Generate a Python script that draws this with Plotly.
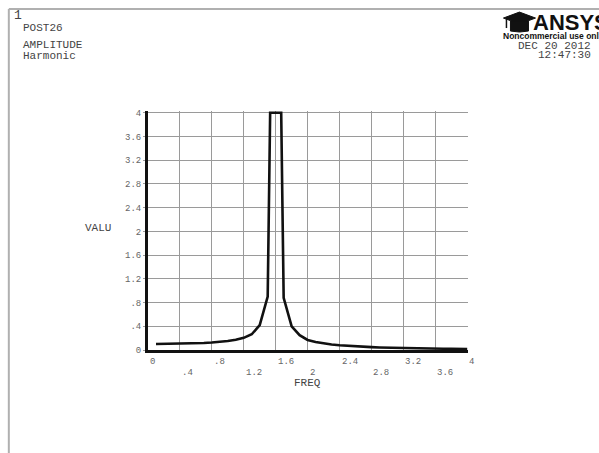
import plotly.graph_objects as go

# ---------------- data ----------------
freq = [0.1, 0.2, 0.3, 0.4, 0.5, 0.6, 0.7, 0.8, 0.9, 1.0,
        1.1, 1.2, 1.3, 1.4, 1.5, 1.6, 1.7, 1.8, 1.9, 2.0,
        2.1, 2.2, 2.3, 2.4, 2.5, 2.6, 2.7, 2.8, 2.9, 3.0,
        3.1, 3.2, 3.3, 3.4, 3.5, 3.6, 3.7, 3.8, 3.9, 4.0]
amplitude = [0.100, 0.101, 0.103, 0.105, 0.108, 0.112, 0.118, 0.126, 0.137, 0.152,
             0.172, 0.205, 0.265, 0.42, 0.90, 11.0, 0.88, 0.40, 0.25, 0.17,
             0.135, 0.11, 0.093, 0.08, 0.069, 0.061, 0.054, 0.048, 0.043, 0.039,
             0.036, 0.033, 0.030, 0.028, 0.026, 0.024, 0.022, 0.021, 0.019, 0.018]
x_ticks = [0, 0.4, 0.8, 1.2, 1.6, 2.0, 2.4, 2.8, 3.2, 3.6, 4.0]
x_tick_text = ["0", ".4", ".8", "1.2", "1.6", "2", "2.4", "2.8", "3.2", "3.6", "4"]
y_ticks = [0, 0.4, 0.8, 1.2, 1.6, 2.0, 2.4, 2.8, 3.2, 3.6, 4.0]
y_tick_text = ["0", ".4", ".8", "1.2", "1.6", "2", "2.4", "2.8", "3.2", "3.6", "4"]
Y_MAX = 4.0

# clip polyline at the plot top (as ANSYS draws it)
def clip_top(xs, ys, ymax):
    cx, cy = [], []
    for i in range(len(xs)):
        if i > 0:
            x0, y0, x1, y1 = xs[i-1], ys[i-1], xs[i], ys[i]
            if (y0 - ymax) * (y1 - ymax) < 0:
                t = (ymax - y0) / (y1 - y0)
                cx.append(x0 + t * (x1 - x0))
                cy.append(ymax)
        if ys[i] <= ymax:
            cx.append(xs[i]); cy.append(ys[i])
        else:
            cx.append(xs[i]); cy.append(ymax)
    return cx, cy

cx, cy = clip_top(freq, amplitude, Y_MAX)

# ---------------- layout geometry ----------------
W, H = 599, 453
L, R, T, B = 148, 131.4, 111.1, 102.5
PW, PH = W - L - R, H - T - B

def px(xp):
    return (xp - L) / PW

def py(yp):
    return (H - B - yp) / PH

MONO = "Courier New, Liberation Mono, Courier, monospace"
TXT = "#444444"

fig = go.Figure()
fig.add_trace(go.Scatter(x=cx, y=cy, mode="lines",
                         line=dict(color="#111111", width=2.6),
                         hoverinfo="skip", showlegend=False))

fig.update_xaxes(range=[0, 4.01], showgrid=True, gridcolor="#9a9a9a", gridwidth=1,
                 tickvals=x_ticks, showticklabels=False, zeroline=False,
                 showline=True, linecolor="#111111", linewidth=3, ticks="")
fig.update_yaxes(range=[0, 4.03], showgrid=True, gridcolor="#9a9a9a", gridwidth=1,
                 tickvals=y_ticks, ticktext=y_tick_text, zeroline=False,
                 showline=True, linecolor="#111111", linewidth=3,
                 ticks="outside", ticklen=2, tickcolor="#9a9a9a",
                 tickfont=dict(family=MONO, size=9, color="#666666"))

annotations = []
for i, (v, t) in enumerate(zip(x_ticks, x_tick_text)):
    annotations.append(dict(x=v, y=0, xref="x", yref="paper", text=t,
                            xanchor="left", yanchor="middle", showarrow=False,
                            xshift=0, yshift=-11.5 if i % 2 == 0 else -22.5,
                            font=dict(family=MONO, size=9, color="#666666")))

def label(text, x, y, size, xanchor="left", color=TXT, family=MONO, bold=False):
    if bold:
        text = "<b>" + text + "</b>"
    annotations.append(dict(x=px(x), y=py(y), xref="paper", yref="paper", text=text,
                            xanchor=xanchor, yanchor="middle", showarrow=False,
                            font=dict(family=family, size=size, color=color)))

label("FREQ", 307, 384, 11, xanchor="center")
label("VALU", 98, 228, 11, xanchor="center")
label("1", 12, 15, 13)
label("POST26", 21, 28, 11)
label("AMPLITUDE", 21, 45, 11)
label("Harmonic", 21, 56, 11)
label("DEC 20 2012", 592, 46, 11, xanchor="right")
label("12:47:30", 592, 55, 11, xanchor="right")
label("ANSYS", 531, 22, 22, color="#111111", family="Liberation Sans", bold=True)
label("Noncommercial use only", 501, 35.5, 8.5, color="#111111",
      family="Liberation Sans", bold=True)

fig.update_layout(annotations=annotations)

# page frame
shapes = [
    dict(type="line", xref="paper", yref="paper", x0=px(9), x1=px(W + 5), y0=py(9), y1=py(9),
         line=dict(color="#b0b0b0", width=2)),
    dict(type="line", xref="paper", yref="paper", x0=px(9), x1=px(9), y0=py(9), y1=py(H + 5),
         line=dict(color="#b0b0b0", width=2)),
]
# graduation cap logo
board = [(503, 18), (519, 12), (535, 18), (519, 24)]
cap = [(510, 21), (528, 21), (528, 31), (519, 32), (510, 31)]
def poly(pts):
    return "M " + " L ".join(f"{px(a):.5f},{py(b):.5f}" for a, b in pts) + " Z"
shapes.append(dict(type="path", xref="paper", yref="paper", path=poly(board),
                   fillcolor="#111111", line=dict(color="#111111", width=1)))
shapes.append(dict(type="path", xref="paper", yref="paper", path=poly(cap),
                   fillcolor="#111111", line=dict(color="#111111", width=1)))
shapes.append(dict(type="line", xref="paper", yref="paper", x0=px(506), x1=px(506),
                   y0=py(19), y1=py(28), line=dict(color="#111111", width=1.5)))

fig.update_layout(
    shapes=shapes,
    width=W, height=H,
    margin=dict(l=L, r=R, t=T, b=B, pad=0),
    paper_bgcolor="white", plot_bgcolor="white",
    showlegend=False,
)

fig.write_html("out.html")
